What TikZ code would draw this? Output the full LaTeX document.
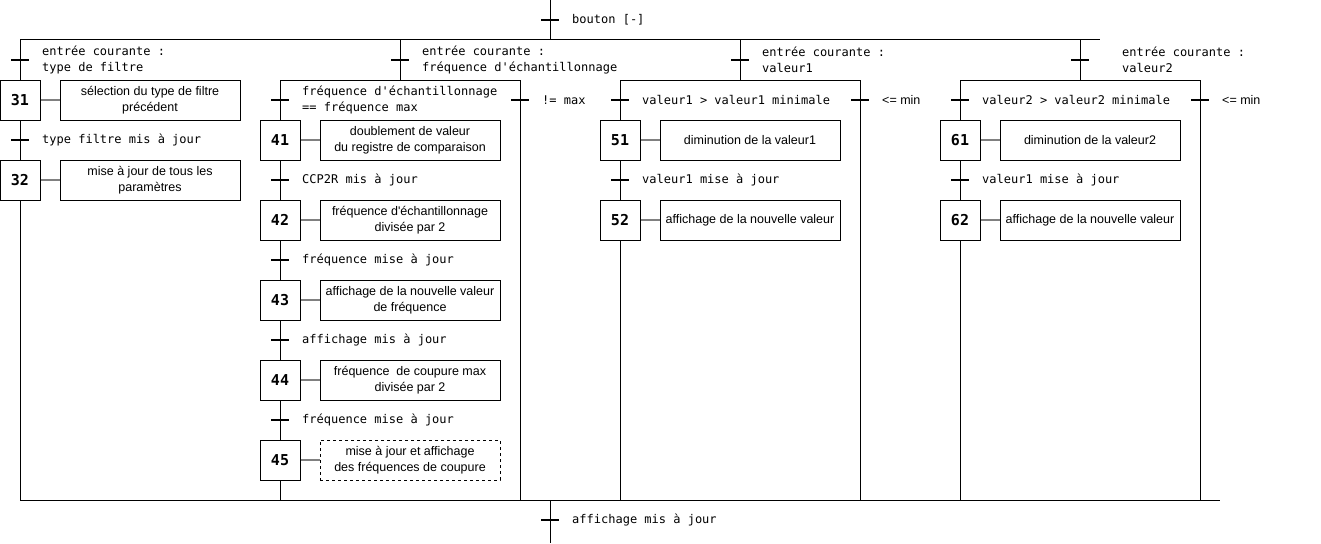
\documentclass[tikz,border=0pt]{standalone}
\usepackage{fontspec}
\setmainfont{Liberation Sans}
\newfontfamily\monof{DejaVu Sans Mono}
\begin{document}
\begin{tikzpicture}[x=1pt,y=-1pt,
  stepbox/.style={draw, line width=1pt, minimum width=40pt, minimum height=40pt, inner sep=0pt, font=\monof\bfseries\fontsize{15}{15}\selectfont},
  actbox/.style={draw, line width=1pt, minimum width=180pt, minimum height=40pt, inner sep=0pt, align=center, font=\fontsize{12.5}{16}\selectfont},
  link/.style={draw=gray, line width=1.5pt},
  wire/.style={line width=1pt},
  tbar/.style={line width=2pt},
  tlabel/.style={anchor=west, inner sep=0pt, align=left, font=\monof\fontsize{12}{16}\selectfont},
  slabel/.style={anchor=west, inner sep=0pt, font=\fontsize{12.5}{16}\selectfont}]
\useasboundingbox (0,0) rectangle (1321,543);

% ---------- coordinates ----------
\coordinate (top) at (550,0);
\coordinate (j0) at (550,40);
\coordinate (hl) at (20,40);
\coordinate (hr) at (1100,40);
\coordinate (bl) at (20,500);
\coordinate (br) at (1220,500);
\coordinate (jb) at (550,500);
\coordinate (bot) at (550,543);

\coordinate (b2t) at (400,40);
\coordinate (b2) at (400,80);
\coordinate (c2l) at (280,80);
\coordinate (c2r) at (520,80);
\coordinate (e2l) at (280,500);
\coordinate (e2r) at (520,500);

\coordinate (b3t) at (740,40);
\coordinate (b3) at (740,80);
\coordinate (c3l) at (620,80);
\coordinate (c3r) at (860,80);
\coordinate (e3l) at (620,500);
\coordinate (e3r) at (860,500);

\coordinate (b4t) at (1080,40);
\coordinate (b4) at (1080,80);
\coordinate (c4l) at (960,80);
\coordinate (c4r) at (1200,80);
\coordinate (e4l) at (960,500);
\coordinate (e4r) at (1200,500);

% ---------- steps ----------
\node[stepbox] (s31) at (20,100) {31};
\node[actbox] (a31) at (150,100) {sélection du type de filtre\\précédent};
\node[stepbox] (s32) at (20,180) {32};
\node[actbox] (a32) at (150,180) {mise à jour de tous les\\paramètres};

\node[stepbox] (s41) at (280,140) {41};
\node[actbox] (a41) at (410,140) {doublement de valeur\\du registre de comparaison};
\node[stepbox] (s42) at (280,220) {42};
\node[actbox] (a42) at (410,220) {fréquence d\textquotesingle échantillonnage\\divisée par 2};
\node[stepbox] (s43) at (280,300) {43};
\node[actbox] (a43) at (410,300) {affichage de la nouvelle valeur\\de fréquence};
\node[stepbox] (s44) at (280,380) {44};
\node[actbox] (a44) at (410,380) {fréquence~ de coupure max\\divisée par 2};
\node[stepbox] (s45) at (280,460) {45};
\node[actbox, dashed] (a45) at (410,460) {mise à jour et affichage\\des fréquences de coupure};

\node[stepbox] (s51) at (620,140) {51};
\node[actbox] (a51) at (750,140) {diminution de la valeur1};
\node[stepbox] (s52) at (620,220) {52};
\node[actbox] (a52) at (750,220) {affichage de la nouvelle valeur};

\node[stepbox] (s61) at (960,140) {61};
\node[actbox] (a61) at (1090,140) {diminution de la valeur2};
\node[stepbox] (s62) at (960,220) {62};
\node[actbox] (a62) at (1090,220) {affichage de la nouvelle valeur};

% ---------- action links ----------
\foreach \n in {31,32,41,42,43,44,45,51,52,61,62}
  \draw[link] (s\n.east) -- (a\n.west);

% ---------- wires ----------
\draw[wire] (top) -- (j0);
\draw[wire] (hl) -- (hr);
\draw[wire] (bl) -- (br);
\draw[wire] (jb) -- (bot);

\draw[wire] (hl) -- (s31.north);
\draw[wire] (s31.south) -- (s32.north);
\draw[wire] (s32.south) -- (bl);

\draw[wire] (b2t) -- (b2);
\draw[wire] (c2l) -- (c2r);
\draw[wire] (c2l) -- (s41.north);
\draw[wire] (s41.south) -- (s42.north);
\draw[wire] (s42.south) -- (s43.north);
\draw[wire] (s43.south) -- (s44.north);
\draw[wire] (s44.south) -- (s45.north);
\draw[wire] (s45.south) -- (e2l);
\draw[wire] (c2r) -- (e2r);

\draw[wire] (b3t) -- (b3);
\draw[wire] (c3l) -- (c3r);
\draw[wire] (c3l) -- (s51.north);
\draw[wire] (s51.south) -- (s52.north);
\draw[wire] (s52.south) -- (e3l);
\draw[wire] (c3r) -- (e3r);

\draw[wire] (b4t) -- (b4);
\draw[wire] (c4l) -- (c4r);
\draw[wire] (c4l) -- (s61.north);
\draw[wire] (s61.south) -- (s62.north);
\draw[wire] (s62.south) -- (e4l);
\draw[wire] (c4r) -- (e4r);

% ---------- transitions ----------
\foreach \nm/\x/\y in {t0/550/20, tb/550/520, t1/20/60, t2/400/60, t3/740/60, t4/1080/60,
  t31/20/140, t4a/280/100, t4b/520/100, t41/280/180, t42/280/260, t43/280/340, t44/280/420,
  t5a/620/100, t5b/860/100, t51/620/180, t6a/960/100, t6b/1200/100, t61/960/180}
{
  \coordinate (\nm) at (\x,\y);
  \draw[tbar] ([xshift=-9pt]\nm) -- ([xshift=9pt]\nm);
}

% ---------- transition labels ----------
\node[tlabel] (l0) at (572,20) {bouton [-]};
\node[tlabel] (lb) at (572,520) {affichage mis à jour};
\node[tlabel] (l1) at (42,60) {entrée courante :\\type de filtre};
\node[tlabel] (l2) at (422,60) {entrée courante :\\fréquence d\textquotesingle échantillonnage};
\node[tlabel] (l3) at (762,60) {entrée courante :\\valeur1};
\node[tlabel] (l4) at (1122,60) {entrée courante :\\valeur2};
\node[tlabel] (l31) at (42,140) {type filtre mis à jour};
\node[tlabel] (l4a) at (302,100) {fréquence d\textquotesingle échantillonnage\\== fréquence max};
\node[tlabel] (l4b) at (542,100) {!= max};
\node[tlabel] (l41) at (302,180) {CCP2R mis à jour};
\node[tlabel] (l42) at (302,260) {fréquence mise à jour};
\node[tlabel] (l43) at (302,340) {affichage mis à jour};
\node[tlabel] (l44) at (302,420) {fréquence mise à jour};
\node[tlabel] (l5a) at (642,100) {valeur1 > valeur1 minimale};
\node[slabel] (l5b) at (882,100) {<= min};
\node[tlabel] (l51) at (642,180) {valeur1 mise à jour};
\node[tlabel] (l6a) at (982,100) {valeur2 > valeur2 minimale};
\node[slabel] (l6b) at (1222,100) {<= min};
\node[tlabel] (l61) at (982,180) {valeur1 mise à jour};
\end{tikzpicture}
\end{document}
